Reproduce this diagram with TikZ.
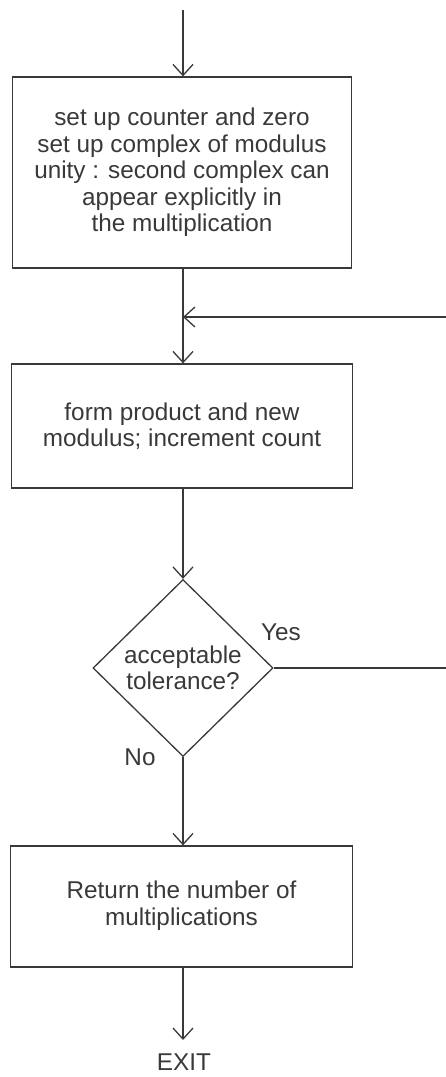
\documentclass[tikz,border=0pt]{standalone}
\usepackage{fontspec}
\setmainfont{Liberation Sans}
\usetikzlibrary{shapes.geometric,arrows.meta}
\definecolor{ink}{HTML}{3A3838}
\begin{document}
\begin{tikzpicture}[x=1pt,y=1pt,
  every node/.style={text=ink,font=\fontsize{24.3}{26.5}\selectfont},
  procbox/.style={draw=ink,line width=1.3pt,rectangle,align=center,inner sep=0pt},
  decision/.style={draw=ink,line width=1.3pt,diamond,align=center,inner sep=0pt},
  flow/.style={draw=ink,line width=1.3pt,-{Straight Barb[length=11pt,width=20pt,line width=1.3pt]}},
  plain/.style={draw=ink,line width=1.3pt},
  tag/.style={inner sep=0pt}]
\useasboundingbox (0,0) rectangle (445,-1077);

% entry point and process steps
\coordinate (start) at (183,-10);
\node[procbox,minimum width=339pt,minimum height=191pt] (setup) at (182,-172.5)
  {set up counter and zero\\set up complex of modulus\\unity : second complex can\\appear explicitly in\\the multiplication};
\coordinate (merge) at (183,-317);
\node[procbox,minimum width=341pt,minimum height=124pt] (form) at (182,-426)
  {form product and new\\modulus; increment count};
\node[decision,minimum width=180pt,minimum height=177pt] (test) at (183,-668)
  {acceptable\\tolerance?};
\node[procbox,minimum width=342pt,minimum height=121pt] (ret) at (181.5,-906.5)
  {\raisebox{5pt}{\begin{tabular}{@{}c@{}}Return the number of\\multiplications\end{tabular}}};
\coordinate (exitpt) at (183,-1040);
\node[tag] (exit) at (184,-1062.5) {EXIT};

% branch labels
\node[tag] (yes) at (281,-632) {Yes};
\node[tag] (no) at (140,-757) {No};

% connectors
\draw[flow] (start) -- (start |- setup.north);
\draw[plain] (setup.south -| merge) -- (merge);
\draw[flow] (merge) -- (merge |- form.north);
\draw[flow] (form.south -| test.north) -- (test.north);
\draw[flow] (test.south) -- (test.south |- ret.north);
\draw[flow] (ret.south -| exitpt) -- (exitpt);

% loop back on "Yes"
\coordinate (loopr) at (452,-668);
\coordinate (loopt) at (452,-317);
\draw[flow] (test.east) -- (loopr) -- (loopt) -- (merge);
\end{tikzpicture}
\end{document}
